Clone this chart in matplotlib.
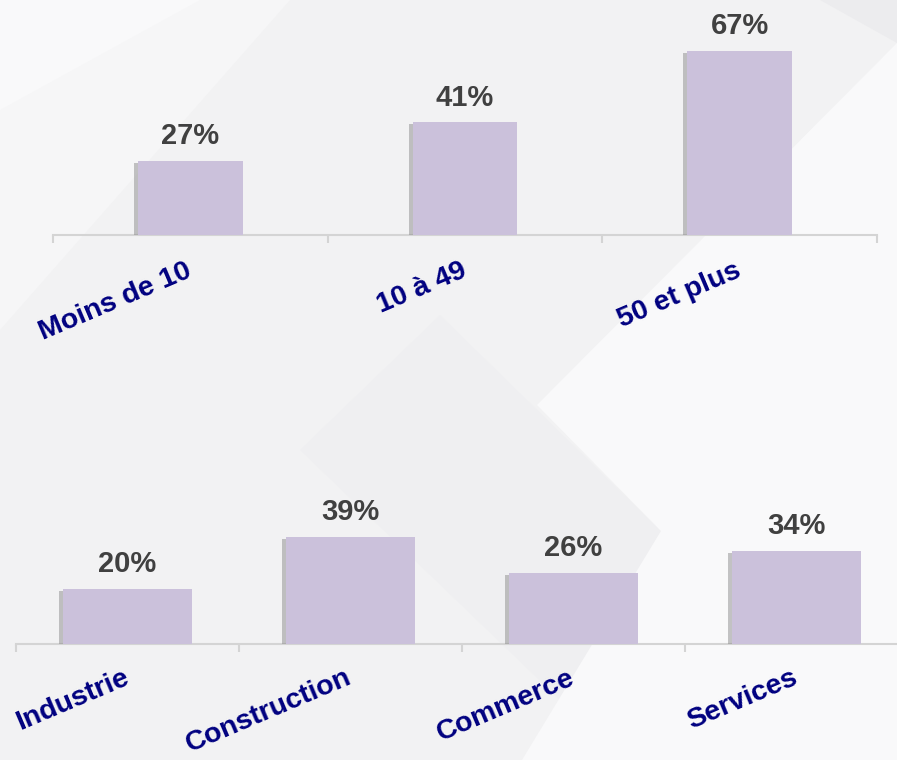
import matplotlib
matplotlib.use("Agg")
import matplotlib.pyplot as plt
import matplotlib.patches as patches
import matplotlib.patheffects as pe
from matplotlib.ticker import FixedLocator

plt.rcParams['font.family'] = ['Liberation Sans', 'DejaVu Sans']

# data
size_labels = ['Moins de 10', '10 à 49', '50 et plus']
size_values = [27, 41, 67]
sector_labels = ['Industrie', 'Construction', 'Commerce', 'Services']
sector_values = [20, 39, 26, 34]

W, H = 897, 760
fig = plt.figure(figsize=(W / 100, H / 100), dpi=100)
fig.patch.set_facecolor('#F2F2F3')

# background axes for the soft decorative shapes (pixels, y from the top)
bg = fig.add_axes([0, 0, 1, 1], zorder=-10)
bg.set_xlim(0, W)
bg.set_ylim(H, 0)
bg.axis('off')


def bg_shape(points, color):
    bg.add_patch(patches.Polygon(points, closed=True, facecolor=color, edgecolor='none'))


bg_shape([(0, 0), (290, 0), (0, 330)], '#F6F6F7')
bg_shape([(0, 0), (200, 0), (0, 110)], '#F9F9FA')
bg_shape([(820, 0), (897, 0), (897, 43)], '#ECECEE')
bg_shape([(440, 315), (661, 531), (560, 700), (300, 450)], '#EFEFF1')
bg_shape([(897, 43), (537, 405), (661, 531), (522, 760), (897, 760)], '#F9F9FA')

bar_color = '#CBC1DB'
axis_color = '#D4D4D4'


def draw_chart(rect, labels, values, width, ymax, pad):
    ax = fig.add_axes(rect)
    ax.set_facecolor('none')
    x = range(len(values))
    bars = ax.bar(x, values, width=width, color=bar_color, zorder=3)
    for b in bars:
        b.set_path_effects([pe.SimplePatchShadow(offset=(-3, -1.5), shadow_rgbFace='#808080', alpha=0.45),
                            pe.Normal()])
    for i, v in enumerate(values):
        ax.annotate(f"{v}%", (i, v), xytext=(0, 12), textcoords='offset points',
                    ha='center', va='baseline', fontsize=21, fontweight='bold', color='#404040')
    ax.set_xlim(-0.5, len(values) - 0.5)
    ax.set_ylim(0, ymax)
    for s in ['top', 'right', 'left']:
        ax.spines[s].set_visible(False)
    ax.spines['bottom'].set_color(axis_color)
    ax.spines['bottom'].set_linewidth(1.5)
    ax.set_yticks([])
    ax.set_xticks(list(x))
    ax.set_xticklabels(labels, rotation=23, ha='right', va='center', rotation_mode='anchor',
                       fontsize=20.5, fontweight='bold', color='#000080')
    ax.tick_params(axis='x', which='major', length=0, pad=pad)
    ax.xaxis.set_minor_locator(FixedLocator([i - 0.5 for i in range(len(values) + 1)]))
    ax.tick_params(axis='x', which='minor', length=6, width=1.5, color=axis_color, direction='out')
    return ax


# top chart: baseline at y=235 px, axis from x=53 to x=877
draw_chart([53 / W, (H - 235) / H, 824 / W, 235 / H], size_labels, size_values, 0.38, 235 / 2.75, 25)
# bottom chart: baseline at y=644 px, axis from x=16 to x=908
draw_chart([16 / W, (H - 644) / H, 892 / W, 244 / H], sector_labels, sector_values, 0.58, 244 / 2.75, 23.5)

fig.savefig('out.png', dpi=100, facecolor=fig.get_facecolor())
